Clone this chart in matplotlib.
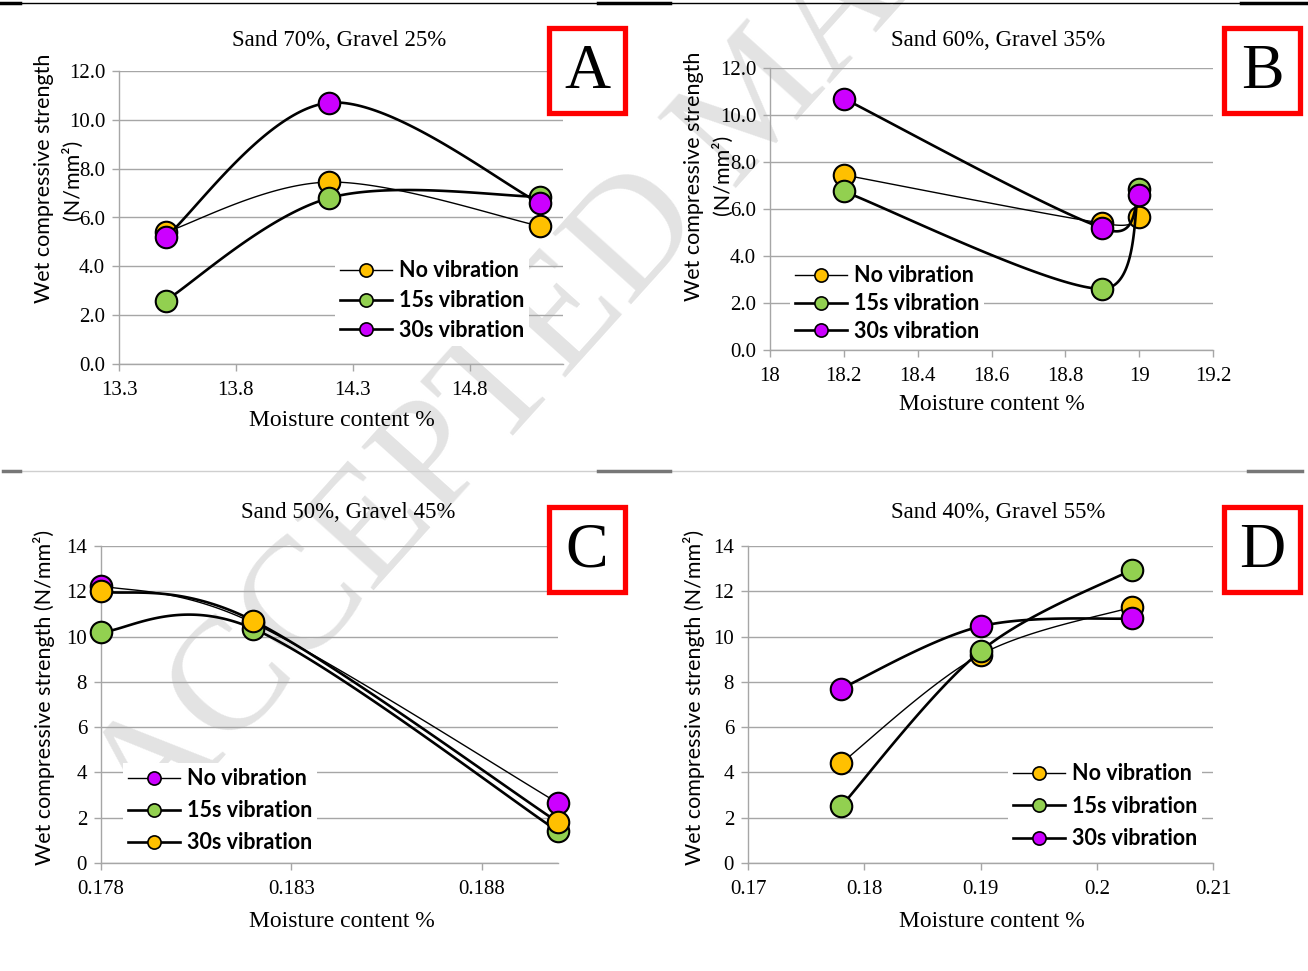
import numpy as np
import matplotlib.pyplot as plt
from matplotlib.lines import Line2D
from matplotlib.patches import Rectangle

plt.rcParams['font.family'] = ['Liberation Serif', 'DejaVu Serif']

# ---- data ----
series_labels = ["No vibration", "15s vibration", "30s vibration"]

moist_a = [13.5, 14.2, 15.1]
a_none = [5.4, 7.45, 5.65]
a_15s = [2.6, 6.8, 6.85]
a_30s = [5.2, 10.7, 6.6]

moist_b = [18.2, 18.9, 19.0]
b_none = [7.45, 5.4, 5.65]
b_15s = [6.75, 2.6, 6.85]
b_30s = [10.7, 5.2, 6.6]

moist_c = [0.178, 0.182, 0.190]
c_none = [12.25, 10.6, 2.65]
c_15s = [10.2, 10.35, 1.4]
c_30s = [12.0, 10.7, 1.8]

moist_d = [0.178, 0.19, 0.203]
d_none = [4.4, 9.2, 11.3]
d_15s = [2.5, 9.35, 12.95]
d_30s = [7.7, 10.45, 10.8]

titles = ["Sand 70%, Gravel 25%", "Sand 60%, Gravel 35%",
          "Sand 50%, Gravel 45%", "Sand 40%, Gravel 55%"]
letters = ["A", "B", "C", "D"]

xticks_a = [13.3, 13.8, 14.3, 14.8]
xticks_b = [18.0, 18.2, 18.4, 18.6, 18.8, 19.0, 19.2]
xticks_c = [0.178, 0.183, 0.188]
xticks_d = [0.17, 0.18, 0.19, 0.20, 0.21]
xlabels_a = ["13.3", "13.8", "14.3", "14.8"]
xlabels_b = ["18", "18.2", "18.4", "18.6", "18.8", "19", "19.2"]
xlabels_c = ["0.178", "0.183", "0.188"]
xlabels_d = ["0.17", "0.18", "0.19", "0.2", "0.21"]
yticks_ab = [0, 2, 4, 6, 8, 10, 12]
yticks_cd = [0, 2, 4, 6, 8, 10, 12, 14]
ylabels_ab = ["0.0", "2.0", "4.0", "6.0", "8.0", "10.0", "12.0"]
ylabels_cd = ["0", "2", "4", "6", "8", "10", "12", "14"]

ORANGE, GREEN, MAGENTA = "#FFC000", "#92D050", "#CC00FF"

W, H = 1308, 971


def fx(px):
    return px / W


def fy(py):
    return 1 - py / H


def smooth(x, y, n=60):
    # Excel-like smoothed line: cubic bezier, catmull-rom tangents / 6
    p = np.column_stack([x, y]).astype(float)
    m = len(p)
    out = []
    t = np.linspace(0, 1, n)[:, None]
    for i in range(m - 1):
        p0 = p[i - 1] if i > 0 else p[i]
        p1, p2 = p[i], p[i + 1]
        p3 = p[i + 2] if i + 2 < m else p[i + 1]
        c1 = p1 + (p2 - p0) / 6
        c2 = p2 - (p3 - p1) / 6
        c1[0] = np.clip(c1[0], p1[0], p2[0])
        c2[0] = np.clip(c2[0], p1[0], p2[0])
        seg = ((1 - t) ** 3 * p1 + 3 * (1 - t) ** 2 * t * c1
               + 3 * (1 - t) * t ** 2 * c2 + t ** 3 * p2)
        out.append(seg)
    s = np.vstack(out)
    return s[:, 0], s[:, 1]


panels = [
    dict(x=moist_a, ys=[a_none, a_15s, a_30s], cols=[ORANGE, GREEN, MAGENTA],
         xlim=(13.3, 15.2), ylim=(0, 12), xt=xticks_a, xl=xlabels_a,
         yt=yticks_ab, yl=ylabels_ab),
    dict(x=moist_b, ys=[b_none, b_15s, b_30s], cols=[ORANGE, GREEN, MAGENTA],
         xlim=(18.0, 19.2), ylim=(0, 12), xt=xticks_b, xl=xlabels_b,
         yt=yticks_ab, yl=ylabels_ab),
    dict(x=moist_c, ys=[c_none, c_15s, c_30s], cols=[MAGENTA, GREEN, ORANGE],
         xlim=(0.178, 0.190), ylim=(0, 14), xt=xticks_c, xl=xlabels_c,
         yt=yticks_cd, yl=ylabels_cd),
    dict(x=moist_d, ys=[d_none, d_15s, d_30s], cols=[ORANGE, GREEN, MAGENTA],
         xlim=(0.17, 0.21), ylim=(0, 14), xt=xticks_d, xl=xlabels_d,
         yt=yticks_cd, yl=ylabels_cd),
]

# pixel layout: axes box, title, xlabel, ylabel, legend anchor, letter box
layout = [
    dict(ax=(119, 71, 563, 364), title=(339, 40), xlab=(342, 420),
         ylab=[("Wet compressive strength", 44, 178), ("(N/mm²)", 72, 180)],
         leg=(335, 255), lsp=0.41, box=(549, 28, 625, 113)),
    dict(ax=(770, 68, 1213, 350), title=(998, 40), xlab=(992, 404),
         ylab=[("Wet compressive strength", 694, 176), ("(N/mm²)", 722, 175)],
         leg=(790, 260), lsp=0.31, box=(1224, 28, 1300, 113)),
    dict(ax=(101, 546, 558, 863), title=(348, 512), xlab=(342, 921),
         ylab=[("Wet compressive strength (N/mm²)", 44, 697)],
         leg=(123, 763), lsp=0.51, box=(549, 507, 625, 592)),
    dict(ax=(748, 546, 1213, 863), title=(998, 512), xlab=(992, 921),
         ylab=[("Wet compressive strength (N/mm²)", 694, 697)],
         leg=(1008, 758), lsp=0.53, box=(1224, 507, 1300, 592)),
]

fig = plt.figure(figsize=(W / 100, H / 100), dpi=100)

# watermark
fig.text(fx(150), fy(840), "ACCEPTED MANUSCRIPT", rotation=48, fontsize=116,
         color="#e3e3e3", ha="left", va="baseline", rotation_mode="anchor",
         zorder=-1)

# page separator lines
fig.add_artist(Line2D([0, 1], [fy(3), fy(3)], color="black", lw=1.0))
for a, b in [(0, 20), (598, 670), (1241, 1308)]:
    fig.add_artist(Line2D([fx(a), fx(b)], [fy(3), fy(3)], color="black", lw=2.5))
fig.add_artist(Line2D([fx(3), fx(1302)], [fy(471), fy(471)], color="#cfcfcf", lw=1.0))
for a, b in [(3, 20), (598, 670), (1248, 1302)]:
    fig.add_artist(Line2D([fx(a), fx(b)], [fy(471), fy(471)], color="#777777", lw=2.5))

grid_col = "#a6a6a6"
for pan, lay, title, letter in zip(panels, layout, titles, letters):
    l, t, r, b = lay["ax"]
    ax = fig.add_axes([fx(l), fy(b), fx(r) - fx(l), fy(t) - fy(b)])
    ax.set_facecolor("none")
    handles = []
    for i, (yv, col) in enumerate(zip(pan["ys"], pan["cols"])):
        lw = 1.0 if i == 0 else 1.9
        xs, ys = smooth(pan["x"], yv)
        ax.plot(xs, ys, color="black", lw=lw, zorder=3 + 2 * i, clip_on=False)
        ax.plot(pan["x"], yv, "o", ms=15.5, mfc=col, mec="black", mew=1.5,
                zorder=4 + 2 * i, clip_on=False)
        handles.append(Line2D([], [], color="black", lw=lw, marker="o", ms=9.5,
                              mfc=col, mec="black", mew=1.2))
    ax.set_xlim(*pan["xlim"])
    ax.set_ylim(*pan["ylim"])
    ax.set_xticks(pan["xt"])
    ax.set_xticklabels(pan["xl"])
    ax.set_yticks(pan["yt"])
    ax.set_yticklabels(pan["yl"])
    ax.yaxis.grid(True, color=grid_col, lw=1.0)
    ax.set_axisbelow(True)
    for s in ["top", "right"]:
        ax.spines[s].set_visible(False)
    for s in ["left", "bottom"]:
        ax.spines[s].set_color(grid_col)
        ax.spines[s].set_linewidth(1.0)
    ax.tick_params(direction="out", length=5, width=1.0, color=grid_col,
                   labelsize=15)
    ax.tick_params(axis="y", pad=5)
    ax.tick_params(axis="x", pad=7)

    leg = ax.legend(handles, series_labels, loc="upper left",
                    bbox_to_anchor=(fx(lay["leg"][0]), fy(lay["leg"][1])),
                    bbox_transform=fig.transFigure, frameon=True,
                    facecolor="white", edgecolor="none", framealpha=1,
                    fancybox=False, borderpad=0.25, borderaxespad=0,
                    handlelength=2.4, handletextpad=0.3,
                    labelspacing=lay["lsp"],
                    prop={"family": "Lato", "weight": "bold", "size": 15.5})
    leg.set_zorder(20)

    fig.text(fx(lay["title"][0]), fy(lay["title"][1]), title, fontsize=16.5,
             ha="center", va="center")
    fig.text(fx(lay["xlab"][0]), fy(lay["xlab"][1]), "Moisture content %",
             fontsize=17, ha="center", va="center")
    for txt, px, py in lay["ylab"]:
        fig.text(fx(px), fy(py), txt, rotation=90, fontsize=15.5,
                 family="Lato", ha="center", va="center")

    bl, bt, br, bb = lay["box"]
    fig.add_artist(Rectangle((fx(bl), fy(bb)), fx(br) - fx(bl), fy(bt) - fy(bb),
                             transform=fig.transFigure, facecolor="white",
                             edgecolor="#ff0000", lw=3.8, zorder=30))
    fig.text(fx((bl + br) / 2), fy((bt + bb) / 2 + 2), letter, fontsize=46,
             ha="center", va="center", zorder=31)

fig.savefig("out.png", dpi=100)
